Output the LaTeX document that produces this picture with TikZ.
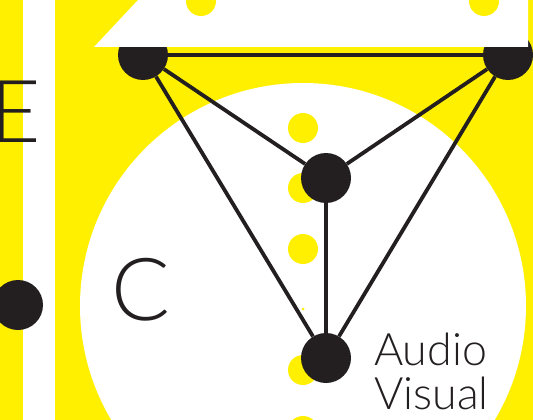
\documentclass[tikz,border=0pt]{standalone}
\usepackage{fontspec}
\setmainfont{Lato Light}
\usetikzlibrary{arrows,shapes}
\definecolor{ylw}{HTML}{FFF000}
\definecolor{ink}{HTML}{231F20}
\tikzstyle{hub}=[circle,fill=ink,inner sep=0pt,minimum size=50pt]
\tikzstyle{spot}=[circle,fill=ylw,inner sep=0pt,minimum size=30pt]
\tikzstyle{link}=[draw=ink,line width=3.8pt]
\tikzstyle{lbl}=[anchor=base west,inner sep=0pt,text=ink]

\begin{document}
\begin{tikzpicture}[x=1pt,y=-1pt]
\useasboundingbox (0,0) rectangle (533,420);
\fill[ylw] (0,0) rectangle (533,420);
\fill[white] (23,0) rectangle (55,420);
\fill[white] (303,306) circle (223pt);
\node[spot] (s1) at (303,128) {};\node[spot] (s2) at (303,188) {};
\node[spot] (s3) at (303,249) {};\node[spot] (s5) at (303,370) {};
\node[spot] (s6) at (303,431) {};
\node[spot,minimum size=3pt] (s4) at (303,309) {};
\node[hub] (TL) at (143,55) {};
\node[hub] (TR) at (508,55) {};
\node[hub] (M) at (326,178) {};
\node[hub] (B) at (326,358) {};
\node[hub] (L) at (18,305) {};
\draw[link](TL)--(TR);\draw[link](TL)--(M);\draw[link](TR)--(M);
\draw[link](TL)--(B);\draw[link](TR)--(B);\draw[link](M)--(B);
\fill[white] (94,47) -- (138,0) -- (528,0) -- (528,47) -- cycle;
\node[spot] (t1) at (201,1) {};\node[spot] (t2) at (484,1) {};
\node[lbl,font=\fontsize{87}{87}\selectfont] (E) at (-10,142) {E};
\node[lbl,font=\fontsize{87}{87}\selectfont] (C) at (111,320) {C};
\node[lbl,font=\fontsize{44.7}{44}\selectfont] (au) at (374,365) {Audio};
\node[lbl,font=\fontsize{44.7}{44}\selectfont] (vi) at (374,409) {Visual};
\end{tikzpicture}
\end{document}
